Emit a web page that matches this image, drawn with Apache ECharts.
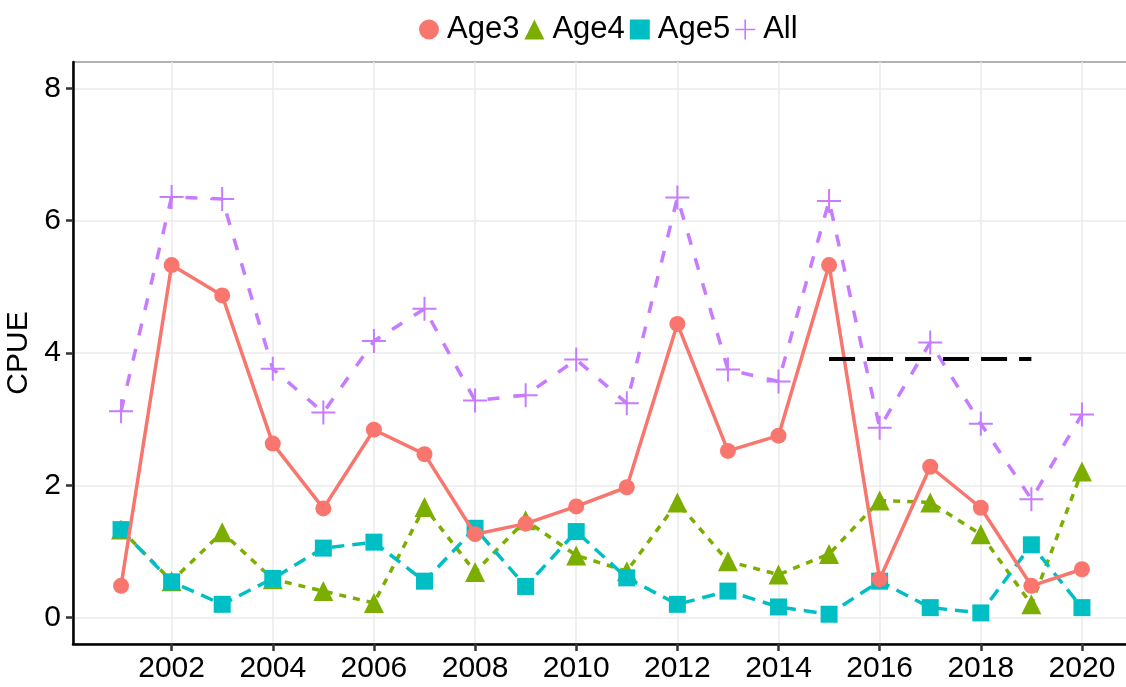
<!DOCTYPE html>
<html>
<head>
<meta charset="utf-8">
<script src="https://cdn.jsdelivr.net/npm/echarts@6/dist/echarts.min.js"></script>
<style>
  html, body { margin: 0; padding: 0; background: #fff; }
  #chart { width: 1126px; height: 687px; }
</style>
</head>
<body>
<div id="chart"></div>
<script>
const years = [2001, 2002, 2003, 2004, 2005, 2006, 2007, 2008, 2009, 2010,
  2011, 2012, 2013, 2014, 2015, 2016, 2017, 2018, 2019, 2020]
const age3 = [0.48, 5.33, 4.87, 2.63, 1.65, 2.84, 2.47, 1.26, 1.42, 1.68,
  1.97, 4.44, 2.52, 2.75, 5.33, 0.58, 2.28, 1.66, 0.48, 0.73]
const age4 = [1.33, 0.55, 1.29, 0.58, 0.40, 0.22, 1.67, 0.69, 1.47, 0.94,
  0.70, 1.74, 0.85, 0.65, 0.96, 1.77, 1.74, 1.26, 0.20, 2.21]
const age5 = [1.33, 0.54, 0.20, 0.59, 1.05, 1.14, 0.55, 1.35, 0.47, 1.30,
  0.60, 0.20, 0.40, 0.16, 0.05, 0.55, 0.15, 0.07, 1.10, 0.15]
const all = [3.12, 6.36, 6.33, 3.76, 3.10, 4.18, 4.67, 3.28, 3.36, 3.90,
  3.24, 6.35, 3.75, 3.57, 6.30, 2.87, 4.16, 2.93, 1.79, 3.07]
// reference level drawn as black long dashes
const refYears = [2015, 2019]
const refLevel = 3.91

const xTicks = [2002, 2004, 2006, 2008, 2010, 2012, 2014, 2016, 2018, 2020]
const yTicks = [0, 2, 4, 6, 8]

const colors = { age3: '#F8766D', age4: '#7CAE00', age5: '#00BFC4', all: '#C77CFF' }
const plusPath = 'path://M0,11h24v2h-24z M11,0h2v24h-2z'
const font = 'Liberation Sans, Arial, sans-serif'

const pairs = vals => years.map((y, i) => [y, vals[i]])

const chart = echarts.init(document.getElementById('chart'), null, { renderer: 'canvas' })

chart.setOption({
  animation: false,
  backgroundColor: '#fff',
  textStyle: { fontFamily: font },
  legend: {
    top: 9,
    left: 414,
    itemGap: 5,
    itemWidth: 20,
    itemHeight: 20,
    textStyle: { fontSize: 31, color: '#000', fontFamily: font, padding: [0, 0, 0, 3] },
    data: [
      { name: 'Age3', icon: 'circle', itemStyle: { color: colors.age3 } },
      { name: 'Age4', icon: 'triangle', itemStyle: { color: colors.age4 } },
      { name: 'Age5', icon: 'rect', itemStyle: { color: colors.age5 } },
      { name: 'All', icon: plusPath, itemStyle: { color: colors.all } }
    ]
  },
  grid: {
    left: 73,
    right: -4,
    top: 62,
    bottom: 43,
    show: true,
    borderColor: '#666',
    borderWidth: 1.2,
    containLabel: false,
    outerBoundsMode: 'none'
  },
  xAxis: {
    type: 'value',
    min: 2000.05,
    max: 2020.95,
    splitNumber: 21,
    minInterval: 1,
    maxInterval: 1,
    axisLine: { show: true, onZero: false, lineStyle: { color: '#000', width: 2.5 } },
    axisTick: { show: true, customValues: xTicks, length: 7, lineStyle: { color: '#333', width: 2.5 } },
    axisLabel: {
      customValues: xTicks,
      formatter: v => String(v),
      fontSize: 30,
      color: '#000',
      margin: 10,
      fontFamily: font
    },
    splitLine: { show: true, lineStyle: { color: '#ebebeb', width: 1.5 } }
  },
  yAxis: {
    type: 'value',
    min: -0.4,
    max: 8.4,
    splitNumber: 9,
    minInterval: 1,
    maxInterval: 1,
    name: 'CPUE',
    nameLocation: 'middle',
    nameGap: 31,
    nameTextStyle: { fontSize: 30, color: '#000', fontFamily: font },
    axisLine: { show: true, onZero: false, lineStyle: { color: '#000', width: 2.5 } },
    axisTick: { show: true, customValues: yTicks, length: 7, lineStyle: { color: '#333', width: 2.5 } },
    axisLabel: {
      customValues: yTicks,
      formatter: v => String(v),
      fontSize: 30,
      color: '#000',
      margin: 12,
      fontFamily: font
    },
    splitLine: { show: true, lineStyle: { color: '#ebebeb', width: 1.5 } }
  },
  series: [
    {
      name: 'Age4',
      type: 'line',
      data: pairs(age4),
      symbol: 'triangle',
      symbolSize: 20,
      color: colors.age4,
      lineStyle: { width: 3.5, type: [7, 7] },
      itemStyle: { color: colors.age4 },
      z: 2
    },
    {
      name: 'Age5',
      type: 'line',
      data: pairs(age5),
      symbol: 'rect',
      symbolSize: 17,
      color: colors.age5,
      lineStyle: { width: 3.5, type: [13, 8] },
      itemStyle: { color: colors.age5 },
      z: 3
    },
    {
      name: 'Age3',
      type: 'line',
      data: pairs(age3),
      symbol: 'circle',
      symbolSize: 16,
      color: colors.age3,
      lineStyle: { width: 3.5 },
      itemStyle: { color: colors.age3 },
      z: 4
    },
    {
      name: 'All',
      type: 'line',
      data: pairs(all),
      symbol: plusPath,
      symbolSize: 24,
      color: colors.all,
      lineStyle: { width: 3.5, type: [12, 14] },
      itemStyle: { color: colors.all },
      z: 5
    },
    {
      name: 'ref',
      type: 'line',
      data: refYears.map(y => [y, refLevel]),
      symbol: 'none',
      lineStyle: { color: '#000', width: 4, type: [26, 12] },
      z: 6,
      silent: true
    }
  ]
})
</script>
</body>
</html>
